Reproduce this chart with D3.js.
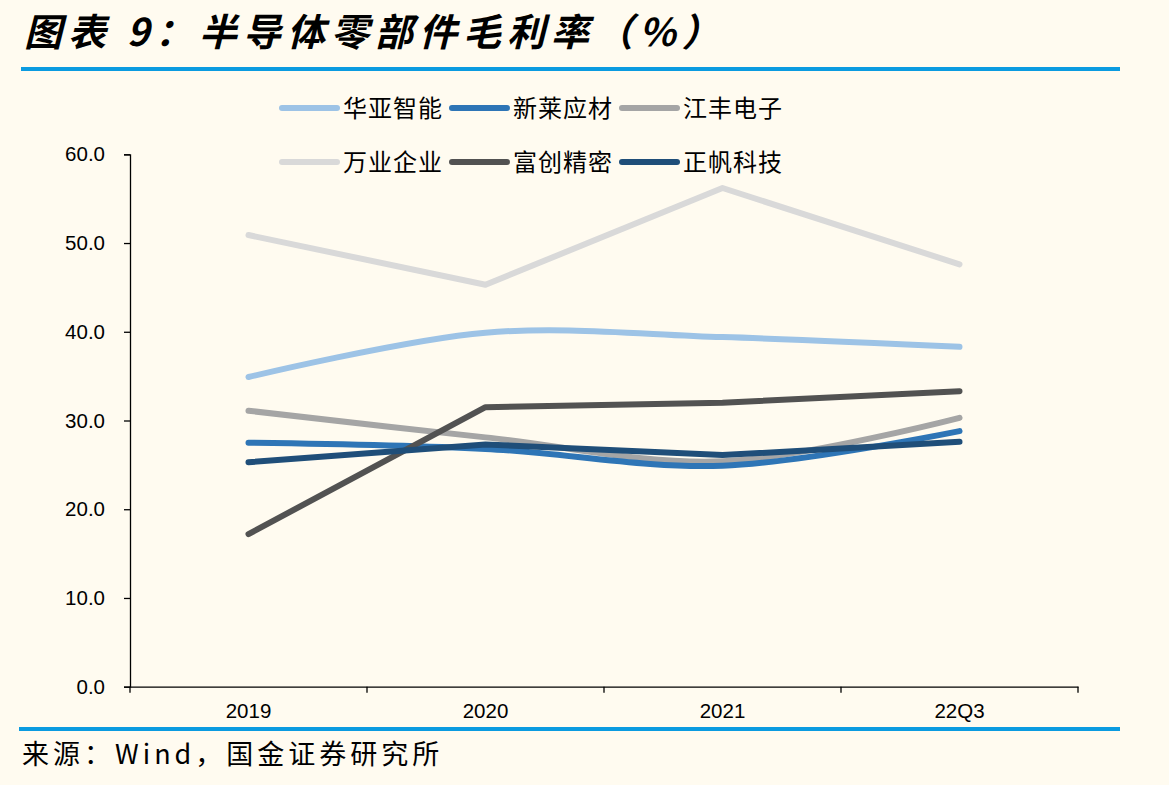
<!DOCTYPE html>
<html>
<head>
<meta charset="utf-8">
<script src="https://cdn.jsdelivr.net/npm/d3@7"></script>
<style>
  html, body { margin: 0; padding: 0; background: #fffbf0; }
  svg { display: block; }
</style>
</head>
<body>
<div id="chart"></div>
<script>
// Semiconductor parts gross margin chart - D3 v7

const categories = ['2019', '2020', '2021', '22Q3'];
const seriesNames = ['华亚智能', '新莱应材', '江丰电子', '万业企业', '富创精密', '正帆科技'];
const huaya   = [34.9, 39.9, 39.4, 38.3];
const xinlai  = [27.5, 26.8, 24.9, 28.8];
const jiangfeng = [31.1, 28.1, 25.4, 30.3];
const wanye   = [50.9, 45.3, 56.2, 47.6];
const fuchuang = [17.2, 31.5, 32.0, 33.3];
const zhengfan = [25.3, 27.3, 26.1, 27.6];
const yTicks = [0, 10, 20, 30, 40, 50, 60];

const colors = ['#9dc3e6', '#2e75b6', '#a5a5a5', '#d9d9d9', '#525252', '#1f4e79'];
const smooth = [true, true, true, false, false, false];

const width = 1169, height = 785;
const plot = { left: 130, right: 1078, top: 154.3, bottom: 686.7 };

const svg = d3.select('#chart')
    .append('svg')
    .attr('width', width)
    .attr('height', height);

svg.append('rect').attr('width', width).attr('height', height).attr('fill', '#fffbf0');

// Title
svg.append('text')
    .attr('x', 24)
    .attr('y', 46)
    .attr('font-family', '"Noto Sans CJK SC", sans-serif')
    .attr('font-size', 38)
    .attr('font-weight', 'bold')
    .attr('font-style', 'italic')
    .attr('letter-spacing', 6)
    .attr('fill', '#000')
    .text('图表 9：半导体零部件毛利率（%）');

// blue rules
svg.append('line').attr('x1', 21).attr('x2', 1120).attr('y1', 69).attr('y2', 69)
    .attr('stroke', '#0b9be0').attr('stroke-width', 4);
svg.append('line').attr('x1', 19).attr('x2', 1120).attr('y1', 729).attr('y2', 729)
    .attr('stroke', '#0b9be0').attr('stroke-width', 4);

// scales
const x = d3.scaleBand().domain(categories).range([plot.left, plot.right]);
const y = d3.scaleLinear().domain([0, 60]).range([plot.bottom, plot.top]);

// y axis
const yAxis = svg.append('g')
    .attr('transform', `translate(${plot.left},0)`)
    .call(d3.axisLeft(y).tickValues(yTicks).tickFormat(d3.format('.1f')).tickSize(6).tickPadding(19));
yAxis.select('.domain').attr('stroke', '#000').attr('stroke-width', 1.3);
yAxis.selectAll('.tick line').attr('stroke', '#000').attr('stroke-width', 1.3);
yAxis.selectAll('.tick text')
    .attr('font-family', '"Liberation Sans", Arial, sans-serif')
    .attr('font-size', 20.5)
    .attr('fill', '#000');

// x axis
const xAxis = svg.append('g')
    .attr('transform', `translate(0,${plot.bottom})`)
    .call(d3.axisBottom(x).tickSize(0).tickPadding(17));
xAxis.select('.domain').attr('stroke', '#000').attr('stroke-width', 1.3);
xAxis.selectAll('.tick text')
    .attr('font-family', '"Liberation Sans", Arial, sans-serif')
    .attr('font-size', 20.5)
    .attr('fill', '#000');
// category boundary ticks
const bounds = categories.map(c => x(c)).concat([x(categories[categories.length - 1]) + x.bandwidth()]);
xAxis.selectAll('.bound')
    .data(bounds)
    .enter()
    .append('line')
    .attr('class', 'bound')
    .attr('x1', d => d).attr('x2', d => d)
    .attr('y1', 0).attr('y2', 6)
    .attr('stroke', '#000').attr('stroke-width', 1.3);

// lines
const allSeries = [huaya, xinlai, jiangfeng, wanye, fuchuang, zhengfan];
const drawOrder = [3, 0, 2, 1, 4, 5];
drawOrder.forEach(i => {
    const line = d3.line()
        .x((d, j) => x(categories[j]) + x.bandwidth() / 2)
        .y(d => y(d))
        .curve(smooth[i] ? d3.curveCardinal.tension(0) : d3.curveLinear);
    svg.append('path')
        .datum(allSeries[i])
        .attr('d', line)
        .attr('fill', 'none')
        .attr('stroke', colors[i])
        .attr('stroke-width', 6)
        .attr('stroke-linecap', 'round')
        .attr('stroke-linejoin', 'round');
});

// legend
const legend = svg.append('g');
seriesNames.forEach((name, i) => {
    const col = i % 3, row = Math.floor(i / 3);
    const lx = 282 + col * 170;
    const ly = 108 + row * 54;
    legend.append('line')
        .attr('x1', lx).attr('x2', lx + 55)
        .attr('y1', ly).attr('y2', ly)
        .attr('stroke', colors[i])
        .attr('stroke-width', 6)
        .attr('stroke-linecap', 'round');
    legend.append('text')
        .attr('x', lx + 61)
        .attr('y', ly)
        .attr('dy', '0.36em')
        .attr('font-family', '"Noto Sans CJK SC", sans-serif')
        .attr('font-size', 24)
        .attr('letter-spacing', 1)
        .attr('fill', '#000')
        .text(name);
});

// source
svg.append('text')
    .attr('x', 22)
    .attr('y', 764)
    .attr('font-family', '"Noto Sans CJK SC", sans-serif')
    .attr('font-size', 27)
    .attr('letter-spacing', 4)
    .attr('fill', '#000')
    .text('来源：Wind，国金证券研究所');
</script>
</body>
</html>
